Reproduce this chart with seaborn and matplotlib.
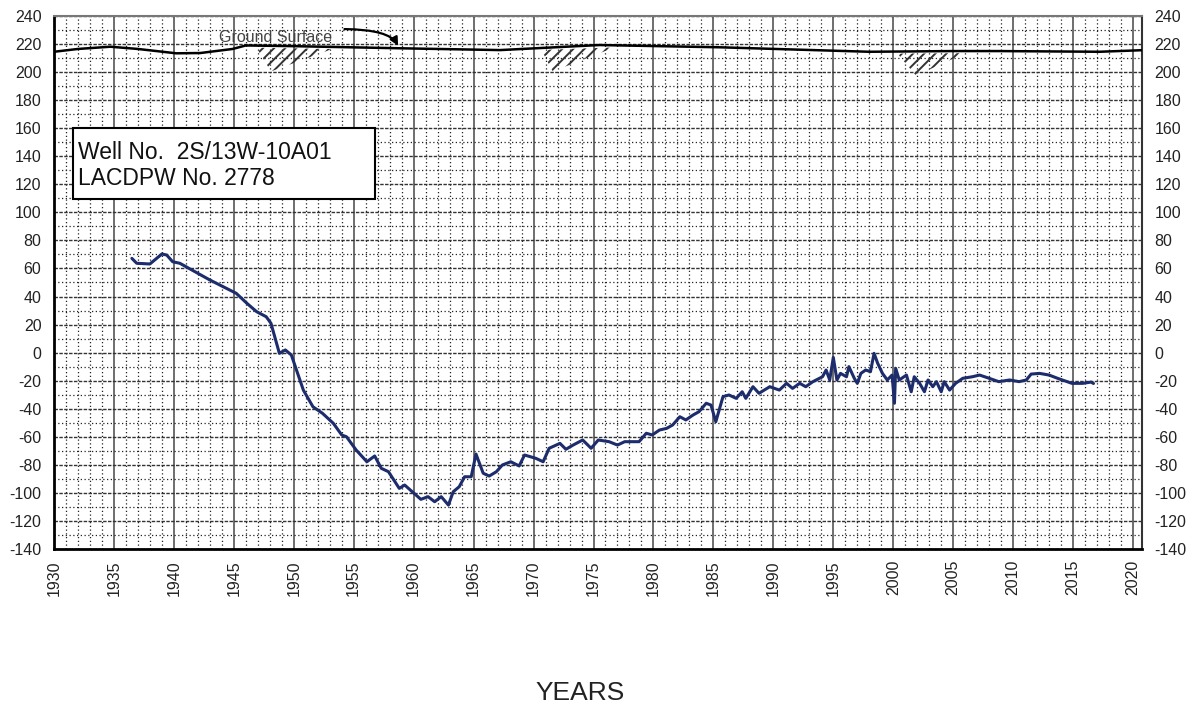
import numpy as np
import seaborn as sns
import matplotlib.pyplot as plt
from matplotlib.patches import Rectangle
from matplotlib.ticker import MultipleLocator

# water level hydrograph
years = [1936.5, 1936.9, 1938.0, 1939.0, 1939.4, 1939.9, 1940.5, 1943.0, 1945.2, 1946.1,
         1946.9, 1947.7, 1948.1, 1948.8, 1949.3, 1949.8, 1950.8, 1951.6, 1952.4, 1953.3,
         1954.0, 1954.4, 1955.2, 1956.1, 1956.75, 1957.3, 1957.9, 1958.8, 1959.25, 1960.6,
         1961.2, 1961.75, 1962.3, 1962.9, 1963.3, 1963.8, 1964.25, 1964.8, 1965.2, 1965.8,
         1966.3, 1966.9, 1967.4, 1968.1, 1968.8, 1969.25, 1970.2, 1970.8, 1971.3, 1972.2,
         1972.7, 1973.3, 1974.1, 1974.8, 1975.4, 1976.3, 1977.0, 1977.6, 1978.8, 1979.4,
         1979.9, 1980.5, 1981.1, 1981.6, 1982.2, 1982.7, 1983.3, 1983.8, 1984.4, 1984.8,
         1985.2, 1985.8, 1986.3, 1986.9, 1987.4, 1987.7, 1988.3, 1988.8, 1989.7, 1990.5,
         1991.1, 1991.6, 1992.2, 1992.7, 1993.3, 1994.1, 1994.4, 1994.7, 1995.0, 1995.3,
         1995.6, 1996.1, 1996.3, 1996.75, 1997.0, 1997.3, 1997.7, 1998.1, 1998.4, 1998.7,
         1999.1, 1999.5, 1999.9, 2000.1, 2000.2, 2000.5, 2001.1, 2001.5, 2001.75, 2002.2,
         2002.6, 2002.9, 2003.3, 2003.6, 2004.0, 2004.25, 2004.7, 2005.2, 2005.8, 2006.6,
         2007.2, 2008.0, 2008.8, 2009.7, 2010.5, 2011.1, 2011.5, 2012.2, 2013.0, 2013.7,
         2014.9, 2015.8, 2016.5, 2016.7]
levels = [67.2, 63.7, 63.2, 70.3, 69.6, 64.8, 63.7, 51.8, 42.3, 35.1,
          29.2, 25.6, 20.9, -0.5, 1.9, -1.7, -26.7, -38.6, -43.3, -50.4,
          -58.7, -60.0, -69.4, -77.8, -73.7, -82.5, -84.9, -96.8, -94.4, -104.6,
          -102.7, -106.3, -102.7, -108.7, -99.2, -95.6, -88.5, -88.5, -72.3, -86.0,
          -88.0, -84.9, -80.1, -77.8, -80.8, -73.0, -75.4, -77.8, -68.2, -64.7,
          -68.9, -65.9, -62.3, -68.2, -62.3, -63.5, -65.9, -63.5, -63.5, -57.5,
          -58.7, -55.2, -54.0, -51.6, -45.7, -48.0, -44.5, -42.1, -36.1, -37.4,
          -49.3, -31.4, -30.2, -32.6, -27.9, -32.6, -24.3, -29.0, -24.3, -26.7,
          -21.9, -25.5, -21.9, -24.3, -20.7, -17.2, -12.4, -19.5, -3.4, -19.5,
          -14.8, -17.2, -10.0, -18.3, -21.9, -14.8, -12.4, -13.6, -0.5, -7.6,
          -14.8, -19.5, -16.0, -36.1, -11.2, -19.5, -16.0, -27.9, -17.2, -21.9,
          -27.9, -19.5, -24.3, -20.7, -27.9, -20.7, -26.7, -21.9, -18.3, -17.2,
          -16.0, -18.3, -20.7, -19.5, -20.7, -19.5, -15.3, -14.8, -16.0, -18.3,
          -21.9, -21.9, -21.0, -22.0]

# ground surface elevation
ground_years = [1930, 1932, 1934.7, 1937, 1940.2, 1942.2, 1944.9, 1946, 1950, 1958.8,
                1967.2, 1975.5, 1985.5, 1998, 2005, 2008.8, 2017.2, 2021]
ground_elev = [214.5, 216.5, 218.1, 216.5, 213.4, 213.6, 216.5, 219.0, 218.5, 217.0,
               215.7, 219.3, 217.7, 214.5, 215.0, 215.0, 214.5, 215.7]

# hatched soil marks below the ground line: left, lowest point, right, depth
hatch_left = [1947.0, 1970.75, 2000.5]
hatch_low_x = [1948.1, 1971.6, 2001.9]
hatch_right = [1953.2, 1976.75, 2006.0]
hatch_low_y = [200.5, 200.5, 197.5]

x_ticks = list(range(1930, 2021, 5))
y_ticks = list(range(-140, 241, 20))

sns.set_style('white')
plt.rcParams['font.family'] = ['Liberation Sans', 'DejaVu Sans']
plt.rcParams['axes.unicode_minus'] = False
plt.rcParams['hatch.linewidth'] = 1.4

fig = plt.figure(figsize=(11.99, 7.08), dpi=100)
ax = fig.add_axes([0.045, 0.2246, 0.9075, 0.7528])

ax.set_xlim(1930, 2020.75)
ax.set_ylim(-140, 240)
ax.set_xticks(x_ticks)
ax.set_yticks(y_ticks)
ax.xaxis.set_minor_locator(MultipleLocator(1))
ax.yaxis.set_minor_locator(MultipleLocator(10))

# graph paper grid
ax.grid(which='major', axis='x', color='#555555', lw=1.2, ls='-')
ax.grid(which='minor', axis='x', color='#222222', lw=0.9, ls=(0, (1, 2)))
ax.grid(which='major', axis='y', color='#333333', lw=1.0, ls=(0, (2.5, 1)))
ax.grid(which='minor', axis='y', color='#222222', lw=0.9, ls=(0, (1, 2)))
ax.set_axisbelow(True)

# ground surface + hatching
ax.plot(ground_years, ground_elev, color='black', lw=1.8, zorder=3)
g = lambda x: np.interp(x, ground_years, ground_elev)
for x0, xb, x1, yb in zip(hatch_left, hatch_low_x, hatch_right, hatch_low_y):
    xs = [x0, xb, x1]
    top = [g(x0) - 1.5, g(xb) - 1.5, g(x1) - 1.5]
    bot = [g(x0) - 3, yb, g(x1) - 1.5]
    ax.fill_between(xs, bot, top, facecolor='none', edgecolor='#333333',
                    hatch='///', linewidth=0, zorder=2)

ax.text(1943.8, 225, 'Ground Surface', fontsize=11.5, color='#444444',
        va='center', ha='left', zorder=4)
ax.annotate('', xy=(1958.8, 217), xytext=(1954.0, 230.7),
            arrowprops=dict(arrowstyle='-|>', color='black', lw=1.6,
                            connectionstyle='angle3,angleA=0,angleB=-70',
                            mutation_scale=12), zorder=4)

# water levels
sns.lineplot(x=years, y=levels, sort=False, estimator=None, color='#1c2c6c',
             lw=2.2, ax=ax, zorder=5)

# well label box
ax.add_patch(Rectangle((1931.55, 109.5), 25.25, 50.8, facecolor='white',
                       edgecolor='black', lw=1.5, zorder=6))
ax.text(1932.0, 143, 'Well No.  2S/13W-10A01', fontsize=16.5, va='center',
        ha='left', color='#111111', zorder=7)
ax.text(1932.0, 124, 'LACDPW No. 2778', fontsize=16.5, va='center',
        ha='left', color='#111111', zorder=7)

ax.tick_params(axis='x', which='major', direction='out', length=4, width=1,
               pad=4, labelsize=11.5, labelrotation=90, colors='#222222')
ax.tick_params(axis='x', which='minor', length=0)
ax.tick_params(axis='y', which='both', length=0, pad=9, labelsize=11.5,
               labelcolor='#222222', labelright=True)

for side in ['left', 'bottom']:
    ax.spines[side].set_color('black')
    ax.spines[side].set_linewidth(2)
ax.spines['top'].set_color('#777777')
ax.spines['top'].set_linewidth(1.5)
ax.spines['right'].set_color('#333333')
ax.spines['right'].set_linewidth(1.5)

ax.set_xlabel('')
ax.set_ylabel('')
fig.text(0.4837, 0.0216, 'YEARS', fontsize=19, ha='center', va='center',
         color='#222222')

plt.savefig('out.png', dpi=100)
